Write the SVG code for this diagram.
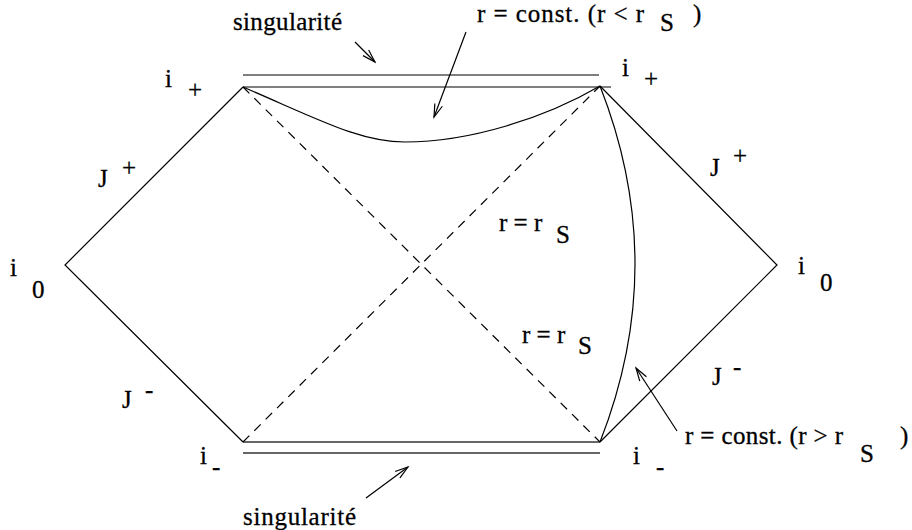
<svg xmlns="http://www.w3.org/2000/svg" width="912" height="530" viewBox="0 0 912 530">
<style>
.ln{stroke:#000;stroke-width:1.2;fill:none}
.dash{stroke:#000;stroke-width:1.2;fill:none;stroke-dasharray:9 7}
.ar{stroke:#000;stroke-width:1.2;fill:none;marker-end:url(#ah)}
.lbl{font-family:'Liberation Serif',serif;font-size:25px;fill:#000;stroke:#000;stroke-width:0.3;white-space:pre}
</style>
<defs>
<marker id="ah" markerUnits="userSpaceOnUse" viewBox="-14 -6 16 12" refX="0" refY="0" markerWidth="16" markerHeight="12" orient="auto">
<path d="M-13,-4 L0,0 L-13,4" stroke="#000" stroke-width="1.2" fill="none"/>
</marker>
</defs>
<rect width="912" height="530" fill="#fff"/>
<g id="diagram">
<g id="boundary">
<path class="ln" d="M243,87 L65,265 L243,442"/>
<path class="ln" d="M600,86 L777,265 L600,442"/>
</g>
<g id="singularity-top">
<line class="ln" x1="243" y1="75" x2="599" y2="75"/>
<line class="ln" x1="243" y1="87" x2="611" y2="87"/>
</g>
<g id="singularity-bottom">
<line x1="243" y1="442" x2="600" y2="442" stroke="#333" stroke-width="1.4"/>
<line x1="243" y1="453" x2="600" y2="453" stroke="#666" stroke-width="2"/>
</g>
<g id="horizons">
<line class="dash" x1="243" y1="87" x2="600" y2="442"/>
<line class="dash" x1="243" y1="442" x2="600" y2="86"/>
</g>
<g id="curves">
<path class="ln" d="M243,87 C320,120 360,142 405,142 C470,142 545,118 600,86"/>
<path class="ln" d="M600,86 Q670,264 600,442"/>
</g>
</g>
<g id="connectors">
<line class="ar" x1="355" y1="42" x2="375" y2="62"/>
<line class="ar" x1="466" y1="32" x2="434" y2="117"/>
<line class="ar" x1="677" y1="431" x2="636" y2="368"/>
<line class="ar" x1="366" y1="498" x2="408" y2="467"/>
</g>
<g id="labels" class="lbl">
<text x="233" y="30" textLength="109">singularité</text>
<text x="477" y="22" textLength="167">r = const.  (r &lt; r</text>
<text x="660" y="31">S</text>
<text x="693" y="22">)</text>
<text x="165" y="87">i</text>
<text x="188" y="98">+</text>
<text x="622" y="76">i</text>
<text x="644" y="87">+</text>
<text x="98" y="187">J</text>
<text x="122" y="176">+</text>
<text x="710" y="176">J</text>
<text x="733" y="164">+</text>
<text x="10" y="276">i</text>
<text x="32" y="298">0</text>
<text x="798" y="274">i</text>
<text x="820" y="291">0</text>
<text x="499" y="231">r = r</text>
<text x="556" y="243">S</text>
<text x="522" y="343">r = r</text>
<text x="578" y="354">S</text>
<text x="122" y="408">J</text>
<text x="145" y="398">-</text>
<text x="712" y="385">J</text>
<text x="733" y="375">-</text>
<text x="200" y="464">i</text>
<text x="212" y="475">-</text>
<text x="633" y="464">i</text>
<text x="656" y="475">-</text>
<text x="685" y="444" textLength="158">r = const.  (r &gt; r</text>
<text x="860" y="462">S</text>
<text x="900" y="444">)</text>
<text x="243" y="525" textLength="113">singularité</text>
</g>
</svg>
